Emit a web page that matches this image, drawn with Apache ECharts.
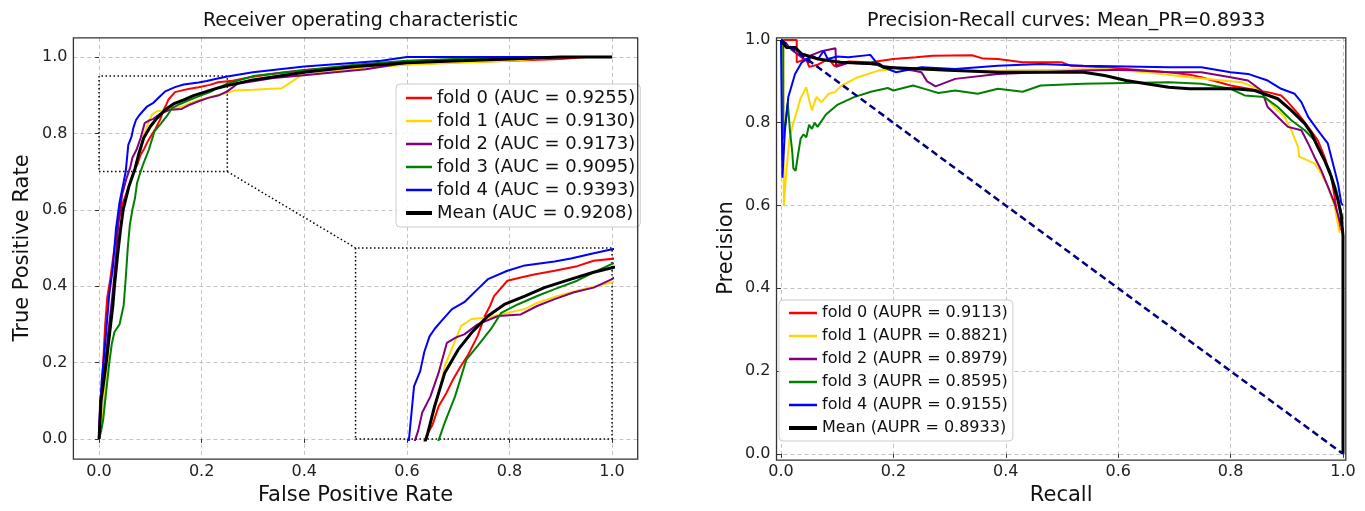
<!DOCTYPE html>
<html><head><meta charset="utf-8">
<script src="https://cdn.jsdelivr.net/npm/echarts@6/dist/echarts.min.js"></script>
<style>html,body{margin:0;padding:0;background:#fff}#c{width:1365px;height:511px}</style>
</head><body><div id="c"></div>
<script>
// ---------------- DATA ----------------
const tickValues = [0, 0.2, 0.4, 0.6, 0.8, 1.0];
const foldColors = ['red', 'gold', 'purple', 'green', 'blue', 'black'];

const rocNames = ['fold 0 (AUC = 0.9255)', 'fold 1 (AUC = 0.9130)', 'fold 2 (AUC = 0.9173)',
  'fold 3 (AUC = 0.9095)', 'fold 4 (AUC = 0.9393)', 'Mean (AUC = 0.9208)'];
const prNames = ['fold 0 (AUPR = 0.9113)', 'fold 1 (AUPR = 0.8821)', 'fold 2 (AUPR = 0.8979)',
  'fold 3 (AUPR = 0.8595)', 'fold 4 (AUPR = 0.9155)', 'Mean (AUPR = 0.8933)'];

const rocFold0 = [[0,0],[0.002,0.05],[0.005,0.12],[0.008,0.2],[0.012,0.3],[0.016,0.37],[0.022,0.42],[0.03,0.5],[0.038,0.57],[0.047,0.62],[0.058,0.66],[0.069,0.705],[0.075,0.72],[0.081,0.744],[0.088,0.76],[0.095,0.779],[0.102,0.795],[0.11,0.812],[0.119,0.836],[0.126,0.862],[0.131,0.875],[0.135,0.888],[0.148,0.908],[0.16,0.912],[0.174,0.916],[0.194,0.921],[0.216,0.927],[0.232,0.934],[0.26,0.938],[0.3,0.948],[0.35,0.958],[0.4,0.966],[0.5,0.975],[0.6,0.981],[0.7,0.986],[0.8,0.99],[0.9,0.995],[0.95,1.0],[1.0,1.0]];
const rocFold1 = [[0,0],[0.004,0.03],[0.008,0.07],[0.012,0.14],[0.016,0.2],[0.022,0.3],[0.028,0.4],[0.035,0.48],[0.042,0.56],[0.05,0.62],[0.06,0.67],[0.069,0.705],[0.075,0.73],[0.081,0.76],[0.087,0.797],[0.095,0.823],[0.103,0.849],[0.113,0.858],[0.129,0.86],[0.148,0.866],[0.165,0.871],[0.177,0.879],[0.197,0.888],[0.216,0.895],[0.235,0.901],[0.25,0.906],[0.263,0.912],[0.3,0.914],[0.356,0.918],[0.375,0.935],[0.393,0.951],[0.48,0.968],[0.6,0.98],[0.7,0.985],[0.8,0.99],[0.9,1.0],[1.0,1.0]];
const rocFold2 = [[0,0],[0.002,0.1],[0.008,0.15],[0.012,0.2],[0.018,0.28],[0.024,0.35],[0.028,0.4],[0.033,0.48],[0.038,0.57],[0.045,0.64],[0.053,0.68],[0.061,0.712],[0.065,0.736],[0.073,0.757],[0.081,0.788],[0.089,0.827],[0.098,0.834],[0.106,0.838],[0.119,0.851],[0.139,0.862],[0.161,0.864],[0.177,0.875],[0.194,0.884],[0.213,0.893],[0.232,0.899],[0.25,0.91],[0.27,0.93],[0.34,0.945],[0.42,0.955],[0.52,0.968],[0.6,0.985],[0.7,0.99],[0.8,0.995],[0.9,1.0],[1.0,1.0]];
const rocFold3 = [[0,0],[0.004,0.02],[0.008,0.05],[0.012,0.1],[0.016,0.15],[0.02,0.2],[0.025,0.25],[0.03,0.28],[0.04,0.3],[0.048,0.35],[0.052,0.42],[0.056,0.5],[0.06,0.56],[0.065,0.6],[0.07,0.63],[0.074,0.67],[0.081,0.7],[0.087,0.723],[0.097,0.757],[0.108,0.805],[0.119,0.823],[0.132,0.845],[0.142,0.866],[0.158,0.877],[0.177,0.888],[0.194,0.897],[0.216,0.908],[0.232,0.919],[0.25,0.93],[0.3,0.95],[0.4,0.965],[0.5,0.98],[0.6,0.99],[0.8,1.0],[1.0,1.0]];
const rocFold4 = [[0,0],[0.002,0.08],[0.005,0.15],[0.01,0.22],[0.015,0.3],[0.02,0.38],[0.027,0.45],[0.033,0.55],[0.04,0.62],[0.046,0.66],[0.052,0.7],[0.057,0.77],[0.063,0.79],[0.067,0.815],[0.072,0.835],[0.077,0.845],[0.084,0.856],[0.094,0.871],[0.106,0.88],[0.119,0.897],[0.129,0.91],[0.148,0.921],[0.165,0.928],[0.194,0.933],[0.21,0.937],[0.229,0.943],[0.25,0.949],[0.3,0.96],[0.4,0.975],[0.5,0.985],[0.55,0.99],[0.6,1.0],[1.0,1.0]];
const rocMean = [[0,0],[0.004,0.1],[0.008,0.14],[0.014,0.2],[0.02,0.27],[0.027,0.35],[0.03,0.4],[0.036,0.48],[0.042,0.55],[0.047,0.6],[0.058,0.66],[0.07,0.707],[0.077,0.744],[0.087,0.788],[0.1,0.818],[0.113,0.84],[0.129,0.862],[0.145,0.877],[0.165,0.888],[0.184,0.899],[0.21,0.91],[0.232,0.919],[0.25,0.925],[0.3,0.94],[0.4,0.96],[0.5,0.975],[0.6,0.985],[0.7,0.99],[0.8,0.995],[0.9,1.0],[1.0,1.0]];

const prFold0 = [[0,1],[0.028,1],[0.028,0.946],[0.045,0.955],[0.05,0.935],[0.065,0.94],[0.085,0.955],[0.095,0.937],[0.12,0.948],[0.16,0.946],[0.2,0.954],[0.24,0.958],[0.27,0.962],[0.34,0.963],[0.36,0.955],[0.386,0.954],[0.43,0.946],[0.5,0.946],[0.515,0.938],[0.576,0.934],[0.614,0.93],[0.69,0.922],[0.727,0.916],[0.748,0.91],[0.8,0.89],[0.866,0.874],[0.89,0.866],[0.902,0.85],[0.92,0.822],[0.938,0.79],[0.955,0.758],[0.967,0.718],[0.979,0.67],[0.985,0.622],[0.991,0.566],[0.995,0.54]];
const prFold1 = [[0,1],[0.004,1],[0.005,0.6],[0.01,0.69],[0.015,0.76],[0.022,0.8],[0.027,0.822],[0.035,0.86],[0.045,0.886],[0.05,0.855],[0.055,0.83],[0.063,0.862],[0.072,0.85],[0.085,0.87],[0.096,0.874],[0.108,0.89],[0.137,0.91],[0.173,0.926],[0.205,0.93],[0.25,0.93],[0.3,0.925],[0.4,0.926],[0.5,0.928],[0.576,0.93],[0.65,0.922],[0.727,0.91],[0.8,0.9],[0.819,0.898],[0.849,0.882],[0.872,0.846],[0.896,0.814],[0.908,0.782],[0.92,0.742],[0.922,0.718],[0.949,0.702],[0.961,0.678],[0.973,0.646],[0.985,0.598],[0.994,0.534]];
const prFold2 = [[0,1],[0.01,0.99],[0.02,0.975],[0.03,0.965],[0.04,0.955],[0.05,0.945],[0.052,0.962],[0.07,0.972],[0.097,0.98],[0.098,0.935],[0.12,0.945],[0.16,0.942],[0.197,0.934],[0.235,0.926],[0.25,0.922],[0.26,0.9],[0.275,0.888],[0.31,0.906],[0.386,0.918],[0.462,0.922],[0.538,0.926],[0.614,0.928],[0.69,0.922],[0.748,0.922],[0.8,0.91],[0.831,0.902],[0.855,0.878],[0.866,0.838],[0.884,0.814],[0.902,0.79],[0.926,0.782],[0.938,0.75],[0.949,0.718],[0.961,0.686],[0.973,0.646],[0.985,0.606],[0.997,0.55]];
const prFold3 = [[0,1],[0.004,1],[0.004,0.76],[0.008,0.8],[0.012,0.848],[0.016,0.78],[0.02,0.73],[0.022,0.69],[0.026,0.684],[0.03,0.72],[0.035,0.762],[0.04,0.772],[0.045,0.765],[0.05,0.795],[0.055,0.785],[0.06,0.8],[0.065,0.79],[0.08,0.82],[0.1,0.843],[0.13,0.862],[0.16,0.875],[0.19,0.884],[0.2,0.878],[0.235,0.89],[0.26,0.88],[0.28,0.872],[0.31,0.878],[0.35,0.87],[0.386,0.882],[0.43,0.875],[0.462,0.89],[0.538,0.894],[0.614,0.896],[0.69,0.898],[0.748,0.894],[0.8,0.882],[0.825,0.866],[0.86,0.862],[0.884,0.838],[0.908,0.806],[0.932,0.782],[0.949,0.758],[0.961,0.726],[0.976,0.686],[0.988,0.638],[0.997,0.582],[1.0,0.566]];
const prFold4 = [[0,1],[0.002,1],[0.0025,0.667],[0.007,0.782],[0.013,0.862],[0.025,0.918],[0.037,0.946],[0.055,0.962],[0.066,0.954],[0.076,0.974],[0.083,0.954],[0.1,0.96],[0.12,0.958],[0.159,0.964],[0.174,0.938],[0.205,0.922],[0.22,0.926],[0.25,0.934],[0.31,0.93],[0.386,0.938],[0.462,0.942],[0.538,0.938],[0.614,0.936],[0.69,0.934],[0.748,0.934],[0.8,0.922],[0.831,0.918],[0.866,0.902],[0.89,0.882],[0.914,0.87],[0.926,0.85],[0.938,0.814],[0.955,0.782],[0.973,0.75],[0.982,0.702],[0.991,0.654],[0.997,0.606],[1.0,0.6]];
const prMean = [[0,1],[0.005,0.99],[0.01,0.982],[0.025,0.982],[0.037,0.966],[0.066,0.954],[0.106,0.946],[0.174,0.942],[0.182,0.934],[0.31,0.926],[0.386,0.922],[0.538,0.922],[0.576,0.914],[0.614,0.902],[0.65,0.894],[0.69,0.886],[0.727,0.882],[0.807,0.882],[0.843,0.878],[0.884,0.858],[0.908,0.83],[0.932,0.798],[0.944,0.774],[0.955,0.742],[0.967,0.71],[0.979,0.67],[0.991,0.614],[0.997,0.574],[1.0,0.526],[1.0,0]];
const prChance = [[0,1],[1,0]];

const zoomBox = [[0,0.7],[0.25,0.7],[0.25,0.95],[0,0.95],[0,0.7]];
const insetBox = [[0.5,0],[1,0],[1,0.5],[0.5,0.5],[0.5,0]];
const insetConnector = [[0.25,0.7],[0.5,0.5]];
const insetRange = {x:[0,0.25], y:[0.7,0.95], at:{x:[0.5,1.0], y:[0,0.5]}};

const rocData = [rocFold0, rocFold1, rocFold2, rocFold3, rocFold4, rocMean];
const prData = [prFold0, prFold1, prFold2, prFold3, prFold4, prMean];

// ---------------- LAYOUT ----------------
const FONT = 'DejaVu Sans';
const LG = {left:73.4, top:37.9, width:564.3, height:421.3, x:[-0.05,1.05], y:[-0.05,1.05]};
const RG = {left:776.5, top:37.9, width:569.3, height:422.2, x:[-0.008,1.005], y:[-0.01,1.005]};
function px(g, v){return g.left + (v - g.x[0])/(g.x[1]-g.x[0])*g.width;}
function py(g, v){return g.top + (g.y[1]-v)/(g.y[1]-g.y[0])*g.height;}
const IG = {left:px(LG, insetRange.at.x[0]), width:px(LG, insetRange.at.x[1])-px(LG, insetRange.at.x[0]),
            top:py(LG, insetRange.at.y[1]), height:py(LG, insetRange.at.y[0])-py(LG, insetRange.at.y[1])};

function mainAxis(grid, g, dim, name, gap){
  const isX = dim==='x';
  return {
    gridIndex:grid, type:'value', min:g[dim][0], max:g[dim][1],
    axisLine:{show:false},
    axisTick:{show:true, length:4, customValues:tickValues, lineStyle:{color:'#333', width:1}},
    axisLabel:{customValues:tickValues, formatter:v=>v.toFixed(1), fontSize:16, color:'#222', fontFamily:FONT, margin:6},
    splitLine:{show:true, lineStyle:{type:[4,3], color:'#bdbdbd', width:0.9}},
    name:name, nameLocation:'middle', nameGap:gap, nameRotate:isX?0:90,
    nameTextStyle:{fontSize:21, color:'#111', fontFamily:FONT}
  };
}

const series = [];
rocData.forEach((d,i)=>{
  series.push({type:'line', name:rocNames[i], xAxisIndex:0, yAxisIndex:0, data:d, symbol:'none', showSymbol:false,
    lineStyle:{color:foldColors[i], width:i===5?3:2}, itemStyle:{color:foldColors[i]}, z:3+i});
});
rocData.forEach((d,i)=>{
  series.push({type:'line', name:rocNames[i], xAxisIndex:2, yAxisIndex:2, data:d, symbol:'none', showSymbol:false, clip:true,
    lineStyle:{color:foldColors[i], width:i===5?3:2}, itemStyle:{color:foldColors[i]}, z:3+i});
});
[zoomBox, insetBox, insetConnector].forEach(d=>{
  series.push({type:'line', name:'', xAxisIndex:0, yAxisIndex:0, data:d, symbol:'none', silent:true,
    lineStyle:{color:'#000', width:1.5, type:[1.5,2.5]}, z:2});
});
prData.forEach((d,i)=>{
  series.push({type:'line', name:prNames[i], xAxisIndex:1, yAxisIndex:1, data:d, symbol:'none', showSymbol:false,
    lineStyle:{color:foldColors[i], width:i===5?3:2}, itemStyle:{color:foldColors[i]}, z:3+i});
});
series.push({type:'line', name:'chance', xAxisIndex:1, yAxisIndex:1, data:prChance, symbol:'none', silent:true,
  lineStyle:{color:'#000080', width:2.5, type:[7,4]}, z:10});

function legend(names, left, top, fs, w, gap){
  return {data:names.map((n,i)=>({name:n, lineStyle:{width:i===5?4:2.5}})),
    left:left, top:top, orient:'vertical', itemWidth:w, itemHeight:14, itemGap:gap,
    itemStyle:{opacity:0},
    backgroundColor:'rgba(255,255,255,0.85)', borderColor:'#cccccc', borderWidth:1, borderRadius:4,
    padding:[5,5,5,8], selectedMode:false, textStyle:{fontSize:fs, color:'#111', fontFamily:FONT}};
}

const option = {
  animation:false,
  backgroundColor:'#fff',
  textStyle:{fontFamily:FONT},
  title:[
    {text:'Receiver operating characteristic', left:LG.left+LG.width/2, top:7, textAlign:'center',
     textStyle:{fontSize:19, fontWeight:'normal', color:'#111', fontFamily:FONT}},
    {text:'Precision-Recall curves: Mean_PR=0.8933', left:RG.left+RG.width/2, top:7, textAlign:'center',
     textStyle:{fontSize:19, fontWeight:'normal', color:'#111', fontFamily:FONT}}
  ],
  grid:[
    {left:LG.left, top:LG.top, width:LG.width, height:LG.height, containLabel:false},
    {left:RG.left, top:RG.top, width:RG.width, height:RG.height, containLabel:false},
    {left:IG.left, top:IG.top, width:IG.width, height:IG.height, containLabel:false}
  ],
  xAxis:[
    mainAxis(0, LG, 'x', 'False Positive Rate', 27),
    mainAxis(1, RG, 'x', 'Recall', 27),
    {gridIndex:2, type:'value', min:insetRange.x[0], max:insetRange.x[1], show:false}
  ],
  yAxis:[
    mainAxis(0, LG, 'y', 'True Positive Rate', 40),
    mainAxis(1, RG, 'y', 'Precision', 39),
    {gridIndex:2, type:'value', min:insetRange.y[0], max:insetRange.y[1], show:false}
  ],
  legend:[legend(rocNames, 396, 84, 18, 26, 5), legend(prNames, 779, 300, 16, 28, 7)],
  graphic:[
    {type:'rect', z:100, silent:true, shape:{x:LG.left, y:LG.top, width:LG.width, height:LG.height},
     style:{fill:'none', stroke:'#333', lineWidth:1.3}},
    {type:'rect', z:100, silent:true, shape:{x:RG.left, y:RG.top, width:RG.width, height:RG.height},
     style:{fill:'none', stroke:'#333', lineWidth:1.3}}
  ],
  series:series
};
const chart = echarts.init(document.getElementById('c'), null, {renderer:'canvas'});
chart.setOption(option);
</script>
</body></html>
